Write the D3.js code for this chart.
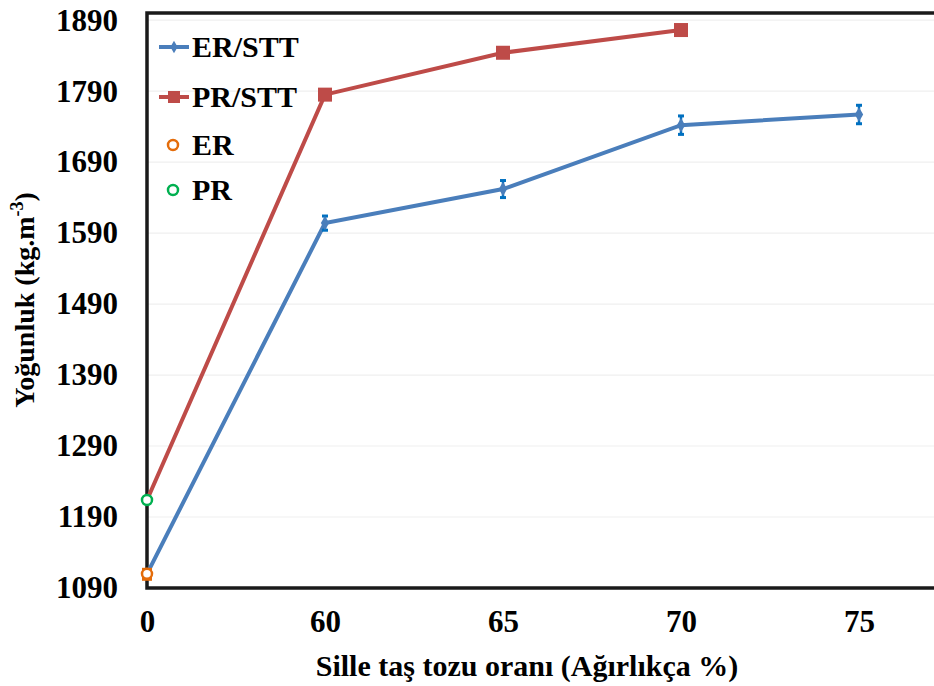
<!DOCTYPE html>
<html>
<head>
<meta charset="utf-8">
<script src="https://cdn.jsdelivr.net/npm/d3@7"></script>
<style>
  body { margin: 0; background: #fff; }
  svg text { font-family: 'Liberation Serif', 'Times New Roman', 'DejaVu Serif', serif !important; font-weight: bold; }
</style>
</head>
<body>
<svg width="934" height="686"></svg>
<script>
// data
const categories = ['0', '60', '65', '70', '75']
const yTicks = [1090, 1190, 1290, 1390, 1490, 1590, 1690, 1790, 1890]
const erStt = [1110, 1604, 1652, 1742, 1757]
const erSttErr = [0, 10, 12, 13, 13]
const prStt = [1214, 1785, 1844, 1876]
const erSingle = [1110]
const prSingle = [1214]

const WIDTH = 934
const HEIGHT = 686
const LEFT = 147
const TOP = 13
const BOTTOM = 588
const STEP = 178

const BLUE = '#4a7ebb'
const RED = '#be4b48'
const ERRBLUE = '#0070c0'
const ORANGE = '#e46c0a'
const GREEN = '#00b050'

const svg = d3.select('svg')

const x = d3.scalePoint()
  .domain(categories)
  .range([LEFT, LEFT + STEP * (categories.length - 1)])
const y = d3.scaleLinear()
  .domain([1090, 1900])
  .range([BOTTOM, TOP])

// grid
svg.append('g')
  .selectAll('line')
  .data(yTicks.slice(1))
  .enter().append('line')
    .attr('x1', LEFT).attr('x2', WIDTH)
    .attr('y1', d => y(d)).attr('y2', d => y(d))
    .attr('stroke', '#efefef')
    .attr('stroke-width', 1.2)

// y axis labels
const yAxis = svg.append('g')
  .attr('transform', `translate(${LEFT},0)`)
  .call(d3.axisLeft(y).tickValues(yTicks).tickFormat(d3.format('d')).tickSize(0).tickPadding(29))
yAxis.select('.domain').remove()
yAxis.selectAll('text')
  .attr('font-size', 31)
  .attr('fill', '#000')

// x axis labels
const xAxis = svg.append('g')
  .attr('transform', `translate(0,${BOTTOM})`)
  .call(d3.axisBottom(x).tickSize(0).tickPadding(22))
xAxis.select('.domain').remove()
xAxis.selectAll('text')
  .attr('font-size', 31)
  .attr('fill', '#000')

// frame
svg.append('path')
  .attr('d', `M${WIDTH + 5},${TOP} H${LEFT} V${BOTTOM} H${WIDTH + 5}`)
  .attr('fill', 'none')
  .attr('stroke', '#1a1a1a')
  .attr('stroke-width', 3.5)

const line = d3.line()
  .x((d, i) => x(categories[i]))
  .y(d => y(d))

// PR/STT
svg.append('path')
  .datum(prStt)
  .attr('d', line)
  .attr('fill', 'none')
  .attr('stroke', RED)
  .attr('stroke-width', 4)
svg.append('g')
  .selectAll('rect')
  .data(prStt.slice(1))
  .enter().append('rect')
    .attr('x', (d, i) => x(categories[i + 1]) - 7)
    .attr('y', d => y(d) - 7)
    .attr('width', 14)
    .attr('height', 14)
    .attr('fill', RED)

// ER/STT
svg.append('path')
  .datum(erStt)
  .attr('d', line)
  .attr('fill', 'none')
  .attr('stroke', BLUE)
  .attr('stroke-width', 4)

const err = svg.append('g')
  .selectAll('g')
  .data(erStt.map((v, i) => ({cat: categories[i], v: v, e: erSttErr[i]})).filter(d => d.e > 0))
  .enter().append('g')
err.append('line')
  .attr('x1', d => x(d.cat)).attr('x2', d => x(d.cat))
  .attr('y1', d => y(d.v - d.e)).attr('y2', d => y(d.v + d.e))
  .attr('stroke', ERRBLUE).attr('stroke-width', 2.5)
err.append('line')
  .attr('x1', d => x(d.cat) - 3).attr('x2', d => x(d.cat) + 3)
  .attr('y1', d => y(d.v - d.e)).attr('y2', d => y(d.v - d.e))
  .attr('stroke', ERRBLUE).attr('stroke-width', 3)
err.append('line')
  .attr('x1', d => x(d.cat) - 3).attr('x2', d => x(d.cat) + 3)
  .attr('y1', d => y(d.v + d.e)).attr('y2', d => y(d.v + d.e))
  .attr('stroke', ERRBLUE).attr('stroke-width', 3)

svg.append('g')
  .selectAll('path')
  .data(erStt.slice(1))
  .enter().append('path')
    .attr('d', d3.symbol(d3.symbolDiamond, 60))
    .attr('transform', (d, i) => `translate(${x(categories[i + 1])},${y(d)})`)
    .attr('fill', BLUE)

// single ER and PR points
svg.append('rect')
  .attr('x', x('0') - 5).attr('y', y(erSingle[0]) - 6)
  .attr('width', 10).attr('height', 13)
  .attr('fill', ORANGE)
svg.append('circle')
  .attr('cx', x('0')).attr('cy', y(erSingle[0])).attr('r', 5)
  .attr('fill', '#fff').attr('stroke', ORANGE).attr('stroke-width', 2.5)
svg.append('circle')
  .attr('cx', x('0')).attr('cy', y(prSingle[0])).attr('r', 5)
  .attr('fill', '#fff').attr('stroke', GREEN).attr('stroke-width', 2.5)

// legend
const legend = svg.append('g').attr('font-size', 30)
const lg = [
  {name: 'ER/STT', type: 'diamond', color: BLUE, y: 47},
  {name: 'PR/STT', type: 'square', color: RED, y: 97},
  {name: 'ER', type: 'circle', color: ORANGE, y: 145},
  {name: 'PR', type: 'circle', color: GREEN, y: 190}
]
lg.forEach(d => {
  if (d.type !== 'circle') {
    legend.append('line')
      .attr('x1', 159).attr('x2', 189)
      .attr('y1', d.y).attr('y2', d.y)
      .attr('stroke', d.color).attr('stroke-width', 4)
  }
  if (d.type === 'diamond') {
    legend.append('path')
      .attr('d', d3.symbol(d3.symbolDiamond, 45))
      .attr('transform', `translate(174,${d.y})`)
      .attr('fill', d.color)
  } else if (d.type === 'square') {
    legend.append('rect')
      .attr('x', 168).attr('y', d.y - 6).attr('width', 12).attr('height', 12)
      .attr('fill', d.color)
  } else {
    legend.append('circle')
      .attr('cx', 173).attr('cy', d.y).attr('r', 5)
      .attr('fill', '#fff').attr('stroke', d.color).attr('stroke-width', 2.5)
  }
  legend.append('text')
    .attr('x', 192).attr('y', d.y + 10)
    .text(d.name)
})

// axis titles
svg.append('text')
  .attr('x', 527).attr('y', 676)
  .attr('text-anchor', 'middle')
  .attr('font-size', 30)
  .text('Sille taş tozu oranı (Ağırlıkça %)')

const yt = svg.append('text')
  .attr('transform', 'translate(34,300) rotate(-90)')
  .attr('text-anchor', 'middle')
  .attr('font-size', 28)
yt.append('tspan').text('Yoğunluk (kg.m')
yt.append('tspan').attr('font-size', 18).attr('dy', -11).text('-3')
yt.append('tspan').attr('dy', 11).text(')')
</script>
</body>
</html>
